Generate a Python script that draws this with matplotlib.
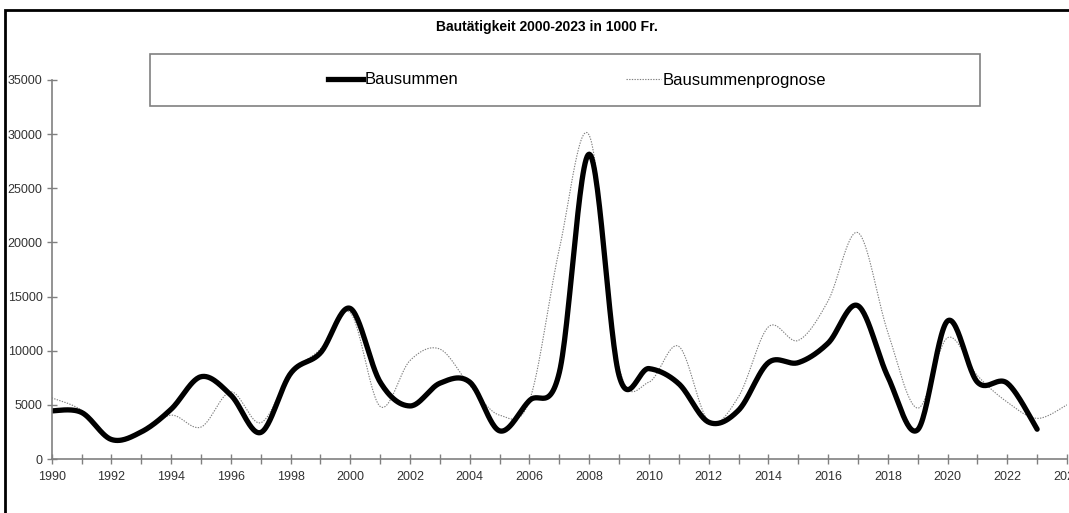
import numpy as np
import matplotlib.pyplot as plt
from matplotlib.patches import Rectangle
from matplotlib.lines import Line2D

plt.rcParams['font.family'] = ['Liberation Sans', 'DejaVu Sans']

jahre_ist = list(range(1990, 2024))
bausummen = [4450, 4300, 1800, 2500, 4600, 7600, 5900, 2450, 7900, 9800,
             13900, 7100, 4900, 7000, 7100, 2600, 5400, 8000, 28150, 7700,
             8350, 6950, 3400, 4500, 8900, 8900, 10700, 14150, 7600, 2700,
             12750, 7100, 7000, 2750]

jahre_prog = list(range(1990, 2025))
prognose = [5650, 4500, 1800, 2500, 4050, 2950, 6200, 3350, 7900, 10150,
            13500, 4850, 9100, 10150, 6800, 4050, 5400, 19400, 29900, 8450,
            7100, 10400, 3500, 5750, 12200, 10950, 14600, 20900, 11700, 4700,
            11200, 7700, 5250, 3750, 5000]


def glatt(x, y, n=30):
    # Excel-artige geglaettete Linie (Bezier mit Catmull-Rom Tangenten)
    x = np.asarray(x, float)
    y = np.asarray(y, float)
    px = np.concatenate([[x[0]], x, [x[-1]]])
    py = np.concatenate([[y[0]], y, [y[-1]]])
    xs, ys = [], []
    t = np.linspace(0, 1, n)
    for i in range(1, len(px) - 2):
        p0 = np.array([px[i], py[i]])
        p3 = np.array([px[i + 1], py[i + 1]])
        p1 = p0 + (np.array([px[i + 1], py[i + 1]]) - np.array([px[i - 1], py[i - 1]])) / 6
        p2 = p3 - (np.array([px[i + 2], py[i + 2]]) - np.array([px[i], py[i]])) / 6
        b = ((1 - t) ** 3)[:, None] * p0 + (3 * (1 - t) ** 2 * t)[:, None] * p1 \
            + (3 * (1 - t) * t ** 2)[:, None] * p2 + (t ** 3)[:, None] * p3
        xs.extend(b[:, 0])
        ys.extend(b[:, 1])
    return xs, ys


fig = plt.figure(figsize=(10.69, 5.13), dpi=100)
ax = fig.add_axes([51.7 / 1069, 54 / 513, (1067 - 51.7) / 1069, 379 / 513])

gx, gy = glatt(jahre_prog, prognose)
ax.plot(gx, gy, color='#7f7f7f', lw=0.8, linestyle=(0, (1.2, 1.2)), label='Bausummenprognose')
bx, by = glatt(jahre_ist, bausummen)
ax.plot(bx, by, color='black', lw=3.8, solid_capstyle='round', label='Bausummen')

ax.set_xlim(1990, 2024)
ax.set_ylim(0, 35000)
ax.set_xticks(range(1990, 2025, 2))
ax.set_xticks(range(1991, 2025, 2), minor=True)
ax.set_yticks(range(0, 35001, 5000))
for s in ['top', 'right']:
    ax.spines[s].set_visible(False)
for s in ['left', 'bottom']:
    ax.spines[s].set_color('#808080')
    ax.spines[s].set_linewidth(1.2)
ax.tick_params(which='both', direction='inout', length=7, width=1, color='#808080',
               labelsize=9, labelcolor='#333333')
ax.tick_params(axis='x', pad=5)
ax.tick_params(axis='y', pad=3)
ax.set_facecolor('none')

fig.text(0.512, 0.947, 'Bautätigkeit 2000-2023 in 1000 Fr.', ha='center', va='center',
         fontsize=10, fontweight='bold')

# Legendenrahmen und Eintraege
fig.patches.append(Rectangle((150 / 1069, 1 - 106 / 513), 830 / 1069, 52 / 513,
                             transform=fig.transFigure, fill=False,
                             edgecolor='#808080', lw=1.2))
handles = [Line2D([], [], color='black', lw=3.8),
           Line2D([], [], color='#7f7f7f', lw=0.8, linestyle=(0, (1.2, 1.2)))]
fig.legend(handles, ['Bausummen', 'Bausummenprognose'], loc='center',
           bbox_to_anchor=(577 / 1069, 1 - 80 / 513), ncol=2, frameon=False,
           fontsize=12, handlelength=2.1, handletextpad=0.1, columnspacing=10.1)

# aeusserer Rahmen
fig.patches.append(Rectangle((5 / 1069, -0.1), 1.2, 1 - 10 / 513 + 0.1,
                             transform=fig.transFigure, fill=False,
                             edgecolor='black', lw=2))

fig.savefig('out.png', dpi=100)
